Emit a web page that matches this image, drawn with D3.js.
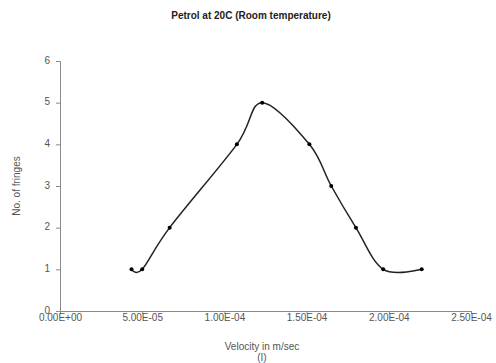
<!DOCTYPE html>
<html>
<head>
<meta charset="utf-8">
<script src="https://cdn.jsdelivr.net/npm/d3@7"></script>
<style>
    body { margin: 0; background: #fff; }
    text { font-family: "Liberation Sans", Arial, sans-serif; }
</style>
</head>
<body>
<svg id="chart" width="496" height="363"></svg>
<script>
// values
var velocity = [4.35e-5, 5.0e-5, 6.67e-5, 1.076e-4, 1.23e-4, 1.517e-4, 1.65e-4, 1.80e-4, 1.966e-4, 2.2e-4];
var fringes = [1, 1, 2, 4, 5, 4, 3, 2, 1, 1];
var xTicks = [0, 5e-5, 1e-4, 1.5e-4, 2e-4, 2.5e-4];
var xTickLabels = ["0.00E+00", "5.00E-05", "1.00E-04", "1.50E-04", "2.00E-04", "2.50E-04"];
var yTicks = [0, 1, 2, 3, 4, 5, 6];

var svg = d3.select("#chart");
var AXIS_COLOR = "#8a8a8a";
var LABEL_COLOR = "#555";

var x = d3.scaleLinear().domain([0, 2.5e-4]).range([60, 471]);
var y = d3.scaleLinear().domain([0, 6]).range([311, 61]);

// title
svg.append("text")
    .attr("x", 251).attr("y", 19)
    .attr("text-anchor", "middle")
    .style("font-size", "10px").style("font-weight", "bold")
    .attr("fill", "#222")
    .text("Petrol at 20C (Room temperature)");

// y axis
var yAxis = svg.append("g")
    .attr("transform", "translate(" + x(0) + ",0)")
    .call(d3.axisLeft(y).tickValues(yTicks).tickSize(4).tickPadding(6).tickFormat(d3.format("d")));
// x axis
var xAxis = svg.append("g")
    .attr("transform", "translate(0," + y(0) + ")")
    .call(d3.axisBottom(x).tickValues(xTicks).tickSize(3).tickPadding(0)
        .tickFormat(function(d, i) { return xTickLabels[i]; }));

[xAxis, yAxis].forEach(function(g) {
    g.select(".domain").attr("stroke", AXIS_COLOR);
    g.selectAll(".tick line").attr("stroke", AXIS_COLOR);
    g.selectAll(".tick text")
        .attr("fill", LABEL_COLOR)
        .style("font-size", "10px")
        .style("font-family", "'Liberation Sans', Arial, sans-serif");
});
yAxis.selectAll(".tick text").attr("dy", "0.2em");

// axis titles
svg.append("text")
    .attr("transform", "translate(20,186) rotate(-90)")
    .attr("text-anchor", "middle")
    .style("font-size", "10px").attr("fill", LABEL_COLOR)
    .text("No. of fringes");
svg.append("text")
    .attr("x", 262).attr("y", 350)
    .attr("text-anchor", "middle")
    .style("font-size", "10px").attr("fill", LABEL_COLOR)
    .text("Velocity in m/sec");
svg.append("text")
    .attr("x", 262).attr("y", 361)
    .attr("text-anchor", "middle")
    .style("font-size", "10px").attr("fill", LABEL_COLOR)
    .text("(I)");

// smoothed line
var points = velocity.map(function(v, i) { return [v, fringes[i]]; });
var line = d3.line()
    .x(function(d) { return x(d[0]); })
    .y(function(d) { return y(d[1]); })
    .curve(d3.curveCardinal.tension(0));

svg.append("path")
    .datum(points)
    .attr("d", line)
    .attr("fill", "none")
    .attr("stroke", "#222")
    .attr("stroke-width", 1.5);

svg.selectAll("circle.pt")
    .data(points)
    .enter().append("circle")
    .attr("class", "pt")
    .attr("cx", function(d) { return x(d[0]); })
    .attr("cy", function(d) { return y(d[1]); })
    .attr("r", 2)
    .attr("fill", "#000");
</script>
</body>
</html>
